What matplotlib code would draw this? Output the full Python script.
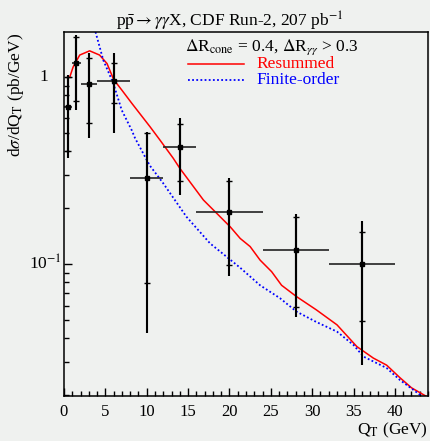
import numpy as np
import matplotlib
matplotlib.use("Agg")
import matplotlib.pyplot as plt
import matplotlib.transforms as mtransforms
from matplotlib.ticker import MultipleLocator, FixedLocator, NullFormatter
from matplotlib.lines import Line2D

plt.rcParams['font.family'] = ['Liberation Serif', 'DejaVu Serif']
plt.rcParams['mathtext.fontset'] = 'stix'

# CDF data points (bin centre, bin edges, value, stat and total errors)
qt = np.array([0.5, 1.5, 3, 6, 10, 14, 20, 28, 36])
qt_lo = np.array([0, 1, 2, 4, 8, 12, 16, 24, 32])
qt_hi = np.array([1, 2, 4, 8, 12, 16, 24, 32, 40])
xsec = np.array([0.69, 1.19, 0.92, 0.95, 0.288, 0.42, 0.189, 0.119, 0.0995])
stat_lo = np.array([0.40, 0.74, 0.57, 0.73, 0.079, 0.279, 0.099, 0.059, 0.0496])
stat_hi = np.array([1.0, 1.64, 1.26, 1.19, 0.50, 0.56, 0.278, 0.178, 0.148])
tot_lo = np.array([0.37, 0.67, 0.47, 0.50, 0.043, 0.234, 0.086, 0.052, 0.029])
tot_hi = np.array([1.02, 1.68, 1.34, 1.34, 0.51, 0.60, 0.287, 0.185, 0.170])

# resummed curve
res_x = [0.7, 1.1, 1.9, 3.1, 4.3, 5.2, 6.0, 7.0, 8.2, 10.4, 11.6, 13.2, 14.0, 16.85,
         20.1, 21.3, 22.5, 23.7, 25.1, 26.3, 28.1, 30.5, 33.0, 35.4, 37.4, 39.0,
         40.6, 42.0, 43.9]
res_y = [1.0, 1.13, 1.31, 1.38, 1.31, 1.18, 0.97, 0.85, 0.723, 0.542, 0.46, 0.368,
         0.325, 0.22, 0.158, 0.137, 0.124, 0.105, 0.091, 0.077, 0.067, 0.0569,
         0.0473, 0.0362, 0.0314, 0.0288, 0.0247, 0.0218, 0.0195]

# finite-order curve
fo_x = [3.0, 3.75, 4.75, 5.96, 6.97, 8.18, 8.6, 10.0, 10.4, 12.0, 14.8, 17.65, 21.3,
        23.7, 26.1, 28.1, 30.5, 33.0, 35.0, 36.2, 39.0, 40.6, 43.1, 44.0]
fo_y = [2.6, 1.78, 1.23, 0.925, 0.666, 0.52, 0.47, 0.36, 0.335, 0.27, 0.179, 0.129,
        0.0955, 0.077, 0.0657, 0.0557, 0.049, 0.0435, 0.0369, 0.032, 0.0278, 0.024,
        0.0199, 0.0186]

ytick_vals = [1, 0.1]
ytick_text = ['1', r'10$^{-1}$']

W, H = 430, 441
bg = '#eff1ef'
fig = plt.figure(figsize=(W / 100, H / 100), dpi=100, facecolor=bg)
ax = fig.add_axes([64 / W, 1 - 396 / H, (428 - 64) / W, (396 - 32) / H])
ax.set_facecolor(bg)

ax.plot(res_x, res_y, color='red', lw=1.1)
ax.plot(fo_x, fo_y, color='blue', lw=1.3, ls=(0, (1, 1.3)))

ax.vlines(qt, tot_lo, tot_hi, color='black', lw=1.5)
ax.hlines(xsec, qt_lo, qt_hi, color='#222222', lw=1.2)
ax.errorbar(qt, xsec, yerr=[xsec - stat_lo, stat_hi - xsec], fmt='none',
            ecolor='black', elinewidth=1.5, capsize=2.5, capthick=1.0)
ax.plot(qt, xsec, 's', color='black', ms=3)

ax.set_yscale('log')
ax.set_xlim(0, 44)
ax.set_ylim(0.0197, 1.74)

ax.xaxis.set_major_locator(MultipleLocator(5))
ax.xaxis.set_minor_locator(MultipleLocator(1))
ax.yaxis.set_major_locator(FixedLocator(ytick_vals))
ax.yaxis.set_major_formatter(NullFormatter())
ax.yaxis.set_minor_locator(FixedLocator([0.02, 0.03, 0.04, 0.05, 0.06, 0.07, 0.08, 0.09,
                                         0.2, 0.3, 0.4, 0.5, 0.6, 0.7, 0.8, 0.9]))
ax.yaxis.set_minor_formatter(NullFormatter())
ax.tick_params(which='both', direction='in', top=False, right=False, labelsize=12,
               colors='black')
ax.tick_params(axis='x', which='major', length=6, width=1, pad=6)
ax.tick_params(axis='x', which='minor', length=3.5, width=1)
ax.tick_params(axis='y', which='major', length=6, width=1)
ax.tick_params(axis='y', which='minor', length=3.5, width=1)
for s in ax.spines.values():
    s.set_linewidth(1.1)
    s.set_color('black')


def fx(px):
    return px / W


def fy(py):
    return 1 - py / H


# y tick labels placed like the original (ROOT style)
ytrans = mtransforms.blended_transform_factory(fig.transFigure, ax.transData)
ax.text(fx(48), ytick_vals[0], ytick_text[0], transform=ytrans, ha='right', va='center',
        fontsize=12.5)
ax.text(fx(62), ytick_vals[1], ytick_text[1], transform=ytrans, ha='right', va='center',
        fontsize=12.5)

fig.text(fx(230), fy(27), r'p$\bar{\rm p}\rightarrow\gamma\gamma$X, CDF Run-2, 207 pb$^{-1}$',
         ha='center', va='baseline', fontsize=12.5)
fig.text(fx(16), fy(33), r'd$\sigma$/dQ$_{\rm T}$ (pb/GeV)', rotation=90,
         ha='center', va='top', fontsize=12.5)
fig.text(fx(428), fy(434), r'Q$_{\rm T}$ (GeV)', ha='right', va='baseline', fontsize=12.5)

fig.text(fx(185), fy(51), r'$\Delta$R$_{\rm cone}$ = 0.4, $\Delta$R$_{\gamma\gamma}$ > 0.3',
         ha='left', va='baseline', fontsize=12.5)
fig.add_artist(Line2D([fx(188), fx(244)], [fy(64), fy(64)], color='red', lw=1.1))
fig.add_artist(Line2D([fx(188), fx(244)], [fy(80), fy(80)], color='blue', lw=1.3,
                      ls=(0, (1, 1.3))))
fig.text(fx(256), fy(64), 'Resummed', color='red', ha='left', va='center', fontsize=12.5)
fig.text(fx(256), fy(80), 'Finite-order', color='blue', ha='left', va='center', fontsize=12.5)

fig.savefig('out.png', dpi=100, facecolor=bg)
